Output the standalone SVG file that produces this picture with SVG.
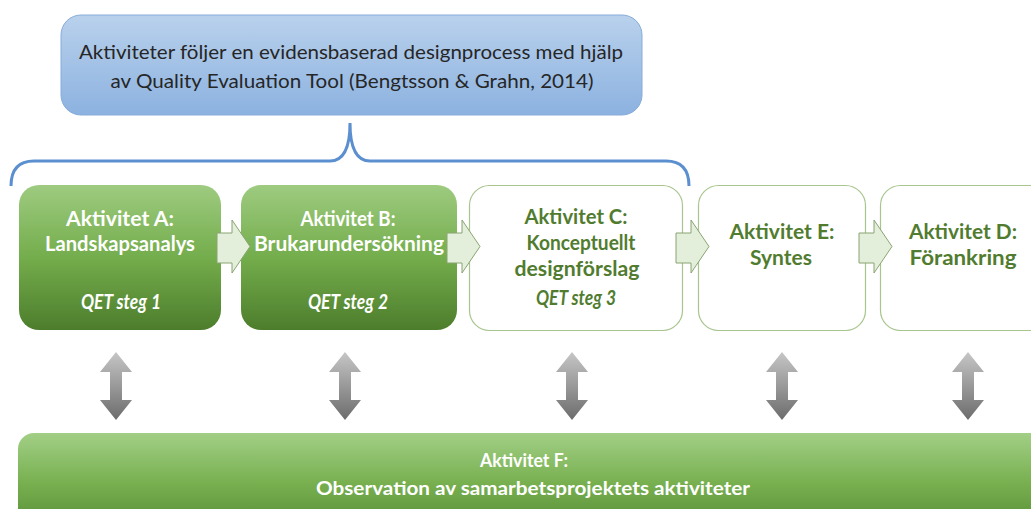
<svg xmlns="http://www.w3.org/2000/svg" width="1031" height="509" viewBox="0 0 1031 509">
  <defs>
    <linearGradient id="gGreen" x1="0" y1="0" x2="0" y2="1">
      <stop offset="0" stop-color="#9ecb80"/>
      <stop offset="0.5" stop-color="#74ad4c"/>
      <stop offset="1" stop-color="#4d7d2c"/>
    </linearGradient>
    <linearGradient id="gBar" x1="0" y1="0" x2="0" y2="1">
      <stop offset="0" stop-color="#a2cf86"/>
      <stop offset="0.5" stop-color="#78b050"/>
      <stop offset="1" stop-color="#558a34"/>
    </linearGradient>
    <linearGradient id="gBlue" x1="0" y1="0" x2="0" y2="1">
      <stop offset="0" stop-color="#b9d1ec"/>
      <stop offset="1" stop-color="#8cb2e0"/>
    </linearGradient>
    <linearGradient id="gGray" x1="0" y1="0" x2="0" y2="1">
      <stop offset="0" stop-color="#c6c6c6"/>
      <stop offset="1" stop-color="#6c6c6c"/>
    </linearGradient>
    <!-- block arrow pointing right, origin at the left edge of its shaft -->
    <path id="stepArrow" d="M0,13 H15 V0 L33,26.5 L15,53 V43 H0 Z"/>
    <!-- vertical two-headed arrow, origin at its centre line -->
    <path id="linkArrow" d="M0,352 L16,372 H6 V400 H16 L0,420 L-16,400 H-6 V372 H-16 Z"/>
  </defs>
  <style>
    .blue { fill: url(#gBlue); stroke: #86acd9; stroke-width: 1; }
    .solid { fill: url(#gGreen); }
    .open { fill: #ffffff; stroke: #a8c58e; stroke-width: 1.2; }
    .bar { fill: url(#gBar); }
    .step { fill: #e3efda; stroke: #8aa473; stroke-width: 1; }
    .link { fill: url(#gGray); }
    .brace { fill: none; stroke: #5b8fcf; stroke-width: 3; }
    text { font-family: Lato, "Open Sans", "Liberation Sans", sans-serif; text-anchor: middle; }
    .intro { font-size: 20px; fill: #262626; }
    .w { font-size: 20px; font-weight: bold; fill: #ffffff; }
    .g { font-size: 20px; font-weight: bold; fill: #517c2f; }
    .i { font-style: italic; }
    .f { font-size: 18px; font-weight: bold; fill: #ffffff; }
  </style>

  <g id="intro">
    <rect class="blue" x="61" y="15" width="581" height="100" rx="20"/>
    <text class="intro" x="351" y="59" textLength="544" lengthAdjust="spacingAndGlyphs">Aktiviteter följer en evidensbaserad designprocess med hjälp</text>
    <text class="intro" x="352" y="88" textLength="483" lengthAdjust="spacingAndGlyphs">av Quality Evaluation Tool (Bengtsson &amp; Grahn, 2014)</text>
  </g>

  <g id="brace">
    <path class="brace" d="M11,186 Q11,161 34,161 H330 Q350,161 350,123 Q350,161 370,161 H666 Q689,161 689,186"/>
  </g>

  <g id="aktivitet-a">
    <rect class="solid" x="19" y="185" width="202" height="145" rx="20"/>
    <text class="w" x="120" y="226" textLength="108" lengthAdjust="spacingAndGlyphs">Aktivitet  A:</text>
    <text class="w" x="120" y="251" textLength="150" lengthAdjust="spacingAndGlyphs">Landskapsanalys</text>
    <text class="w i" x="121" y="309" textLength="80" lengthAdjust="spacingAndGlyphs">QET steg 1</text>
  </g>

  <g id="aktivitet-b">
    <rect class="solid" x="241" y="185" width="216" height="145" rx="20"/>
    <text class="w" x="348" y="226" textLength="95" lengthAdjust="spacingAndGlyphs">Aktivitet B:</text>
    <text class="w" x="349" y="251" textLength="190" lengthAdjust="spacingAndGlyphs">Brukarundersökning</text>
    <text class="w i" x="348" y="309" textLength="80" lengthAdjust="spacingAndGlyphs">QET steg 2</text>
  </g>

  <g id="aktivitet-c">
    <rect class="open" x="469.5" y="185.5" width="213" height="145" rx="20"/>
    <text class="g" x="576" y="224" textLength="103" lengthAdjust="spacingAndGlyphs">Aktivitet C:</text>
    <text class="g" x="581" y="250" textLength="109" lengthAdjust="spacingAndGlyphs">Konceptuellt</text>
    <text class="g" x="577" y="276" textLength="125" lengthAdjust="spacingAndGlyphs">designförslag</text>
    <text class="g i" x="576" y="305" textLength="80" lengthAdjust="spacingAndGlyphs">QET steg 3</text>
  </g>

  <g id="aktivitet-e">
    <rect class="open" x="698.5" y="185.5" width="167" height="145" rx="20"/>
    <text class="g" x="782" y="239" textLength="105" lengthAdjust="spacingAndGlyphs">Aktivitet  E:</text>
    <text class="g" x="781" y="265" textLength="62" lengthAdjust="spacingAndGlyphs">Syntes</text>
  </g>

  <g id="aktivitet-d">
    <rect class="open" x="880.5" y="185.5" width="170" height="145" rx="20"/>
    <text class="g" x="963" y="239" textLength="108" lengthAdjust="spacingAndGlyphs">Aktivitet  D:</text>
    <text class="g" x="963" y="265" textLength="107" lengthAdjust="spacingAndGlyphs">Förankring</text>
  </g>

  <g id="aktivitet-f">
    <rect class="bar" x="18" y="433" width="1040" height="100" rx="16"/>
    <text class="f" x="524" y="467" textLength="88" lengthAdjust="spacingAndGlyphs">Aktivitet  F:</text>
    <text class="f" x="533" y="495" textLength="434" lengthAdjust="spacingAndGlyphs">Observation av samarbetsprojektets aktiviteter</text>
  </g>

  <g id="connectors">
    <use href="#stepArrow" class="step" x="217" y="220"/>
    <use href="#stepArrow" class="step" x="447" y="220"/>
    <use href="#stepArrow" class="step" x="676" y="220"/>
    <use href="#stepArrow" class="step" x="859" y="220"/>
    <use href="#linkArrow" class="link" x="116" y="0"/>
    <use href="#linkArrow" class="link" x="345" y="0"/>
    <use href="#linkArrow" class="link" x="572" y="0"/>
    <use href="#linkArrow" class="link" x="782" y="0"/>
    <use href="#linkArrow" class="link" x="968" y="0"/>
  </g>
</svg>
